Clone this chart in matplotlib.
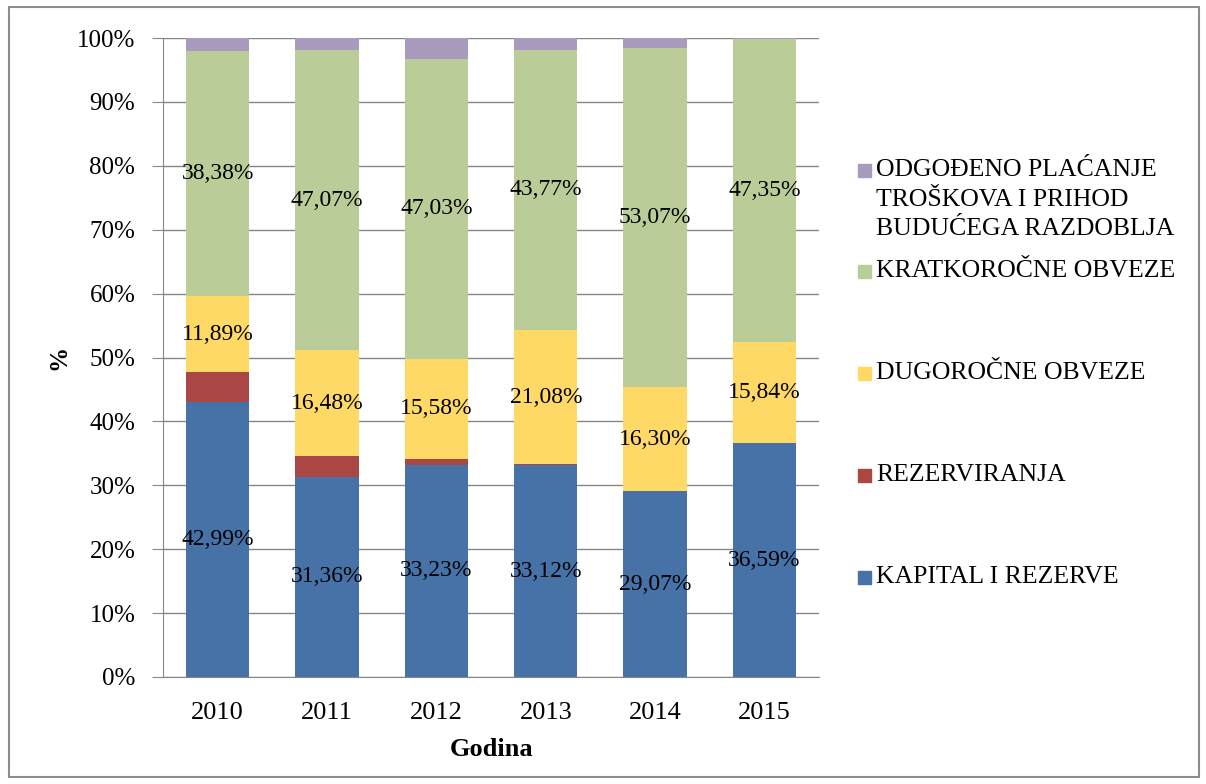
import numpy as np
import matplotlib.pyplot as plt
from matplotlib.patches import Rectangle

plt.rcParams['font.family'] = ['Liberation Serif', 'DejaVu Serif']

# podaci (udjeli u %)
godine = ['2010', '2011', '2012', '2013', '2014', '2015']
kapital = [42.99, 31.36, 33.23, 33.12, 29.07, 36.59]
rezerviranja = [4.74, 3.27, 0.95, 0.15, 0.0, 0.0]
dugorocne = [11.89, 16.48, 15.58, 21.08, 16.30, 15.84]
kratkorocne = [38.38, 47.07, 47.03, 43.77, 53.07, 47.35]
odgodeno = [2.00, 1.82, 3.21, 1.88, 1.56, 0.22]

nazivi = ['KAPITAL I REZERVE', 'REZERVIRANJA', 'DUGOROČNE OBVEZE',
          'KRATKOROČNE OBVEZE', 'ODGOĐENO PLAĆANJE\nTROŠKOVA I PRIHOD\nBUDUĆEGA RAZDOBLJA']
boje = ['#4672A7', '#AA4643', '#FFD966', '#BACD99', '#A89BBD']
s_oznakom = [True, False, True, True, False]

serije = np.array([kapital, rezerviranja, dugorocne, kratkorocne, odgodeno])
udjeli = serije / serije.sum(axis=0) * 100

fig = plt.figure(figsize=(12.06, 7.84), dpi=100)
ax = fig.add_axes([0.1352, 0.1365, 0.544, 0.815])

x = np.arange(len(godine))
dno = np.zeros(len(godine))
for i in range(len(nazivi)):
    ax.bar(x, udjeli[i], 0.58, bottom=dno, color=boje[i], zorder=3)
    if s_oznakom[i]:
        for j in range(len(godine)):
            ax.text(x[j], dno[j] + udjeli[i][j] / 2,
                    f'{serije[i][j]:.2f}%'.replace('.', ','),
                    ha='center', va='center', fontsize=17, zorder=4)
    dno += udjeli[i]

ax.set_xlim(-0.5, len(godine) - 0.5)
ax.set_ylim(0, 100)
ax.set_yticks(np.arange(0, 101, 10))
ax.set_yticklabels([f'{v}%' for v in range(0, 101, 10)], fontsize=18)
ax.set_xticks(x)
ax.set_xticklabels(godine, fontsize=19)
ax.tick_params(axis='y', length=8, color='#868686', pad=12)
ax.tick_params(axis='x', length=0, pad=18)
ax.grid(axis='y', color='#868686', linewidth=1, zorder=0)
for s in ['top', 'right']:
    ax.spines[s].set_visible(False)
for s in ['left', 'bottom']:
    ax.spines[s].set_color('#868686')

ax.set_xlabel('Godina', fontsize=19, fontweight='bold', labelpad=10)
ax.set_ylabel('%', fontsize=18, fontweight='bold', labelpad=5)

# legenda
leg_y = [0.7832, 0.6543, 0.5242, 0.3941, 0.2640]
for i, y in zip(range(len(nazivi) - 1, -1, -1), leg_y):
    fig.patches.append(Rectangle((0.7115, y - 0.009), 0.011, 0.017,
                                 transform=fig.transFigure, color=boje[i]))
    for k, red in enumerate(nazivi[i].split('\n')):
        fig.text(0.7265, y - k * 0.0378, red, fontsize=18.5, va='center')

# okvir
fig.patches.append(Rectangle((0.0075, 0.009), 0.987, 0.982, transform=fig.transFigure,
                             fill=False, edgecolor='#8c8c8c', linewidth=1.5))

plt.savefig('out.png')
